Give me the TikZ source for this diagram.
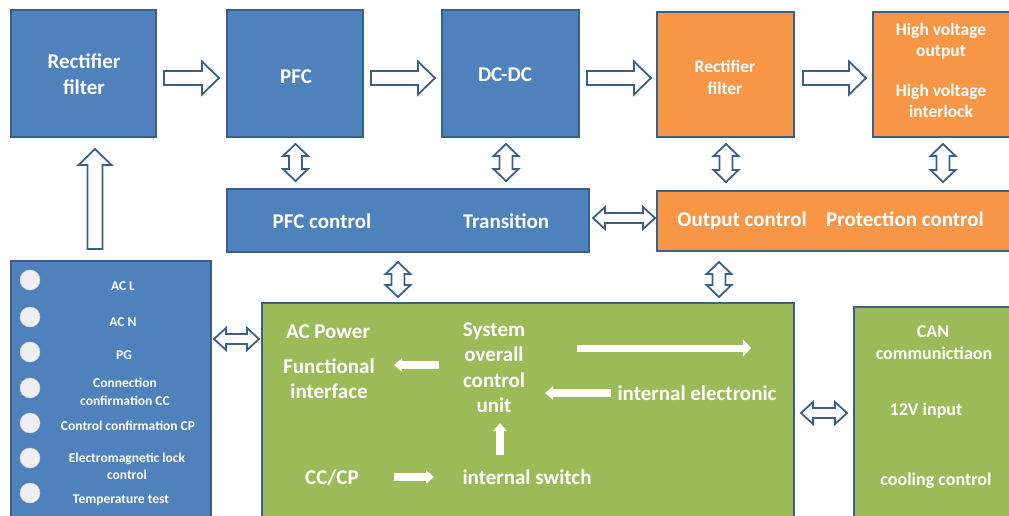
\documentclass[tikz,border=0pt]{standalone}
\usepackage{fontspec}
\setmainfont{Carlito}
\usetikzlibrary{calc,arrows.meta}
\definecolor{bfill}{HTML}{4F81BD}
\definecolor{ofill}{HTML}{F79646}
\definecolor{gfill}{HTML}{9BBB59}
\definecolor{edge}{HTML}{3A5F8B}
\definecolor{dotc}{HTML}{EFEFEF}
\begin{document}
\begin{tikzpicture}[x=1pt,y=-1pt,
  bx/.style={draw=edge, line width=2pt, inner sep=0pt, rectangle},
  tx/.style={text=white, inner sep=0pt, anchor=base, yshift={-0.32*#1pt},
             font=\fontsize{#1}{#1}\selectfont\bfseries},
  hollow/.style={draw=edge, fill=white, line width=1.8pt, line join=miter},
  arrR/.style={hollow, to path={let \p1=(\tikztostart), \p2=(\tikztotarget) in
      (\x1,\y1+7pt) -- (\x2-17pt,\y1+7pt) -- (\x2-17pt,\y1+16.5pt) -- (\x2,\y1)
      -- (\x2-17pt,\y1-16.5pt) -- (\x2-17pt,\y1-7pt) -- (\x1,\y1-7pt) -- cycle}},
  arrU/.style={hollow, to path={let \p1=(\tikztostart), \p2=(\tikztotarget) in
      (\x1-7.5pt,\y1) -- (\x1-7.5pt,\y2-16pt) -- (\x1-16.5pt,\y2-16pt) -- (\x1,\y2)
      -- (\x1+16.5pt,\y2-16pt) -- (\x1+7.5pt,\y2-16pt) -- (\x1+7.5pt,\y1) -- cycle}},
  dblV/.style={hollow, to path={let \p1=(\tikztostart), \p2=(\tikztotarget) in
      (\x1,\y1) -- (\x1+12.5pt,\y1-12pt) -- (\x1+6.5pt,\y1-12pt) -- (\x1+6.5pt,\y2+12pt)
      -- (\x1+12.5pt,\y2+12pt) -- (\x1,\y2) -- (\x1-12.5pt,\y2+12pt) -- (\x1-6.5pt,\y2+12pt)
      -- (\x1-6.5pt,\y1-12pt) -- (\x1-12.5pt,\y1-12pt) -- cycle}},
  dblH/.style={hollow, to path={let \p1=(\tikztostart), \p2=(\tikztotarget) in
      (\x1,\y1) -- (\x1+12pt,\y1+11pt) -- (\x1+12pt,\y1+5pt) -- (\x2-12pt,\y1+5pt)
      -- (\x2-12pt,\y1+11pt) -- (\x2,\y1) -- (\x2-12pt,\y1-11pt) -- (\x2-12pt,\y1-5pt)
      -- (\x1+12pt,\y1-5pt) -- (\x1+12pt,\y1-11pt) -- cycle}},
  warr/.style={draw=white, line width=7.5pt, -{Triangle[length=8pt,width=13pt]}},
  wlong/.style={draw=white, line width=7pt, -{Triangle[length=8pt,width=17pt]}},
  dot/.style={circle, fill=dotc, draw=white!85!black, line width=0.4pt, minimum size=20pt, inner sep=0pt}
]
\clip (0,0) rectangle (1009,515);
\fill[white] (0,0) rectangle (1009,515);

% boxes
\node[bx, fill=bfill, minimum width=145pt, minimum height=127pt] (rf) at (83.5,73.5) {};
\node[bx, fill=bfill, minimum width=136pt, minimum height=127pt] (pfc) at (295,73.5) {};
\node[bx, fill=bfill, minimum width=137pt, minimum height=127pt] (dcdc) at (510.5,73.5) {};
\node[bx, fill=ofill, minimum width=137pt, minimum height=125pt] (orf) at (725.5,74.5) {};
\node[bx, fill=ofill, minimum width=157pt, minimum height=125pt] (hv) at (951.5,74.5) {};
\node[bx, fill=bfill, minimum width=362pt, minimum height=63pt] (ctl) at (408,220.5) {};
\node[bx, fill=ofill, minimum width=373pt, minimum height=60pt] (octl) at (843.5,221) {};
\node[bx, fill=bfill, minimum width=200pt, minimum height=279pt] (conn) at (111,400.5) {};
\node[bx, fill=gfill, minimum width=532pt, minimum height=237pt] (main) at (528,421.5) {};
\node[bx, fill=gfill, minimum width=176pt, minimum height=233pt] (can) at (942,423.5) {};

% texts top row
\node[tx=21] (t1) at (84,62) {Rectifier};
\node[tx=21] (t2) at (84,88) {filter};
\node[tx=21] (t3) at (296,77) {PFC};
\node[tx=21] (t4) at (505,75) {DC-DC};
\node[tx=17.5] (t5) at (725,67) {Rectifier};
\node[tx=17.5] (t6) at (725,89) {filter};
\node[tx=17.5] (t7) at (941,30) {High voltage};
\node[tx=17.5] (t8) at (941,51) {output};
\node[tx=17.5] (t9) at (941,91) {High voltage};
\node[tx=17.5] (t10) at (941,112) {interlock};
% control bars
\node[tx=21] (t11) at (322,222) {PFC control};
\node[tx=21] (t12) at (506,222) {Transition};
\node[tx=21] (t13) at (742,220) {Output control};
\node[tx=21] (t14) at (905,220) {Protection control};

% connector list
\foreach \yy [count=\i] in {280,317,352,388,423,458,493}
  \node[dot] (d\i) at (30,\yy) {};
\node[tx=13.5] (l1) at (123,286) {AC L};
\node[tx=13.5] (l2) at (123,322) {AC N};
\node[tx=13.5] (l3) at (124,355) {PG};
\node[tx=13.5] (l4) at (125,383) {Connection};
\node[tx=13.5] (l5) at (125,401) {confirmation CC};
\node[tx=13.5] (l6) at (128,426) {Control confirmation CP};
\node[tx=13.5] (l7) at (127,458) {Electromagnetic lock};
\node[tx=13.5] (l8) at (127,475) {control};
\node[tx=13.5] (l9) at (121,499) {Temperature test};

% green main
\node[tx=21] (g1) at (328,332) {AC Power};
\node[tx=21] (g2) at (329,367) {Functional};
\node[tx=21] (g3) at (329,392) {interface};
\node[tx=21] (g4) at (494,330) {System};
\node[tx=21] (g5) at (494,355) {overall};
\node[tx=21] (g6) at (494,381) {control};
\node[tx=21] (g7) at (494,406) {unit};
\node[tx=21] (g8) at (697,394) {internal electronic};
\node[tx=21] (g9) at (332,478) {CC/CP};
\node[tx=21] (g10) at (527,478) {internal switch};

% CAN box
\node[tx=18] (c1) at (933,332) {CAN};
\node[tx=18] (c2) at (934,354) {communictiaon};
\node[tx=18] (c3) at (926,410) {12V input};
\node[tx=18] (c4) at (936,480) {cooling control};

% white arrows inside green box
\coordinate (w1s) at (577,348); \coordinate (w1e) at (751,348);
\coordinate (w2s) at (439,365); \coordinate (w2e) at (394,365);
\coordinate (w3s) at (611,393); \coordinate (w3e) at (545,393);
\coordinate (w4s) at (500,455); \coordinate (w4e) at (500,423);
\coordinate (w5s) at (394,477); \coordinate (w5e) at (434,477);
\draw[wlong] (w1s) -- (w1e);
\draw[warr] (w2s) -- (w2e);
\draw[warr] (w3s) -- (w3e);
\draw[warr] (w4s) -- (w4e);
\draw[warr] (w5s) -- (w5e);

% hollow block arrows
\draw[arrR] ($(rf.east)+(7,4.5)$) to ($(pfc.west)+(-7,4.5)$);
\draw[arrR] ($(pfc.east)+(7,4.5)$) to ($(dcdc.west)+(-6,4.5)$);
\draw[arrR] ($(dcdc.east)+(7,4.5)$) to ($(orf.west)+(-5,3.5)$);
\draw[arrR] ($(orf.east)+(8,3.5)$) to ($(hv.west)+(-6,3.5)$);
\draw[arrU] ($(conn.north)+(-16,-11)$) to ($(rf.south)+(11.5,11)$);
\draw[dblV] ($(pfc.south)+(0.5,6)$) to ($(pfc.south |- ctl.north)+(0.5,-7)$);
\draw[dblV] ($(dcdc.south)+(-4.5,6)$) to ($(dcdc.south |- ctl.north)+(-4.5,-7)$);
\draw[dblV] ($(orf.south)+(0.5,6)$) to ($(orf.south |- octl.north)+(0.5,-8)$);
\draw[dblV] ($(hv.south)+(-8.5,6)$) to ($(hv.south |- octl.north)+(-8.5,-8)$);
\draw[dblH] ($(ctl.east)+(3,-2.5)$) to ($(ctl.east -| octl.west)+(-1,-2.5)$);
\draw[dblV] ($(ctl.south)+(-10,9)$) to ($(ctl.south |- main.north)+(-10,-5)$);
\draw[dblV] ($(octl.south)+(-124.5,10)$) to ($(octl.south |- main.north)+(-124.5,-5)$);
\draw[dblH] ($(conn.north east)+(2,79)$) to ($(conn.north east -| main.west)+(-2,79)$);
\draw[dblH] ($(main.east)+(6,-8.5)$) to ($(main.east -| can.west)+(-6,-8.5)$);
\end{tikzpicture}
\end{document}
